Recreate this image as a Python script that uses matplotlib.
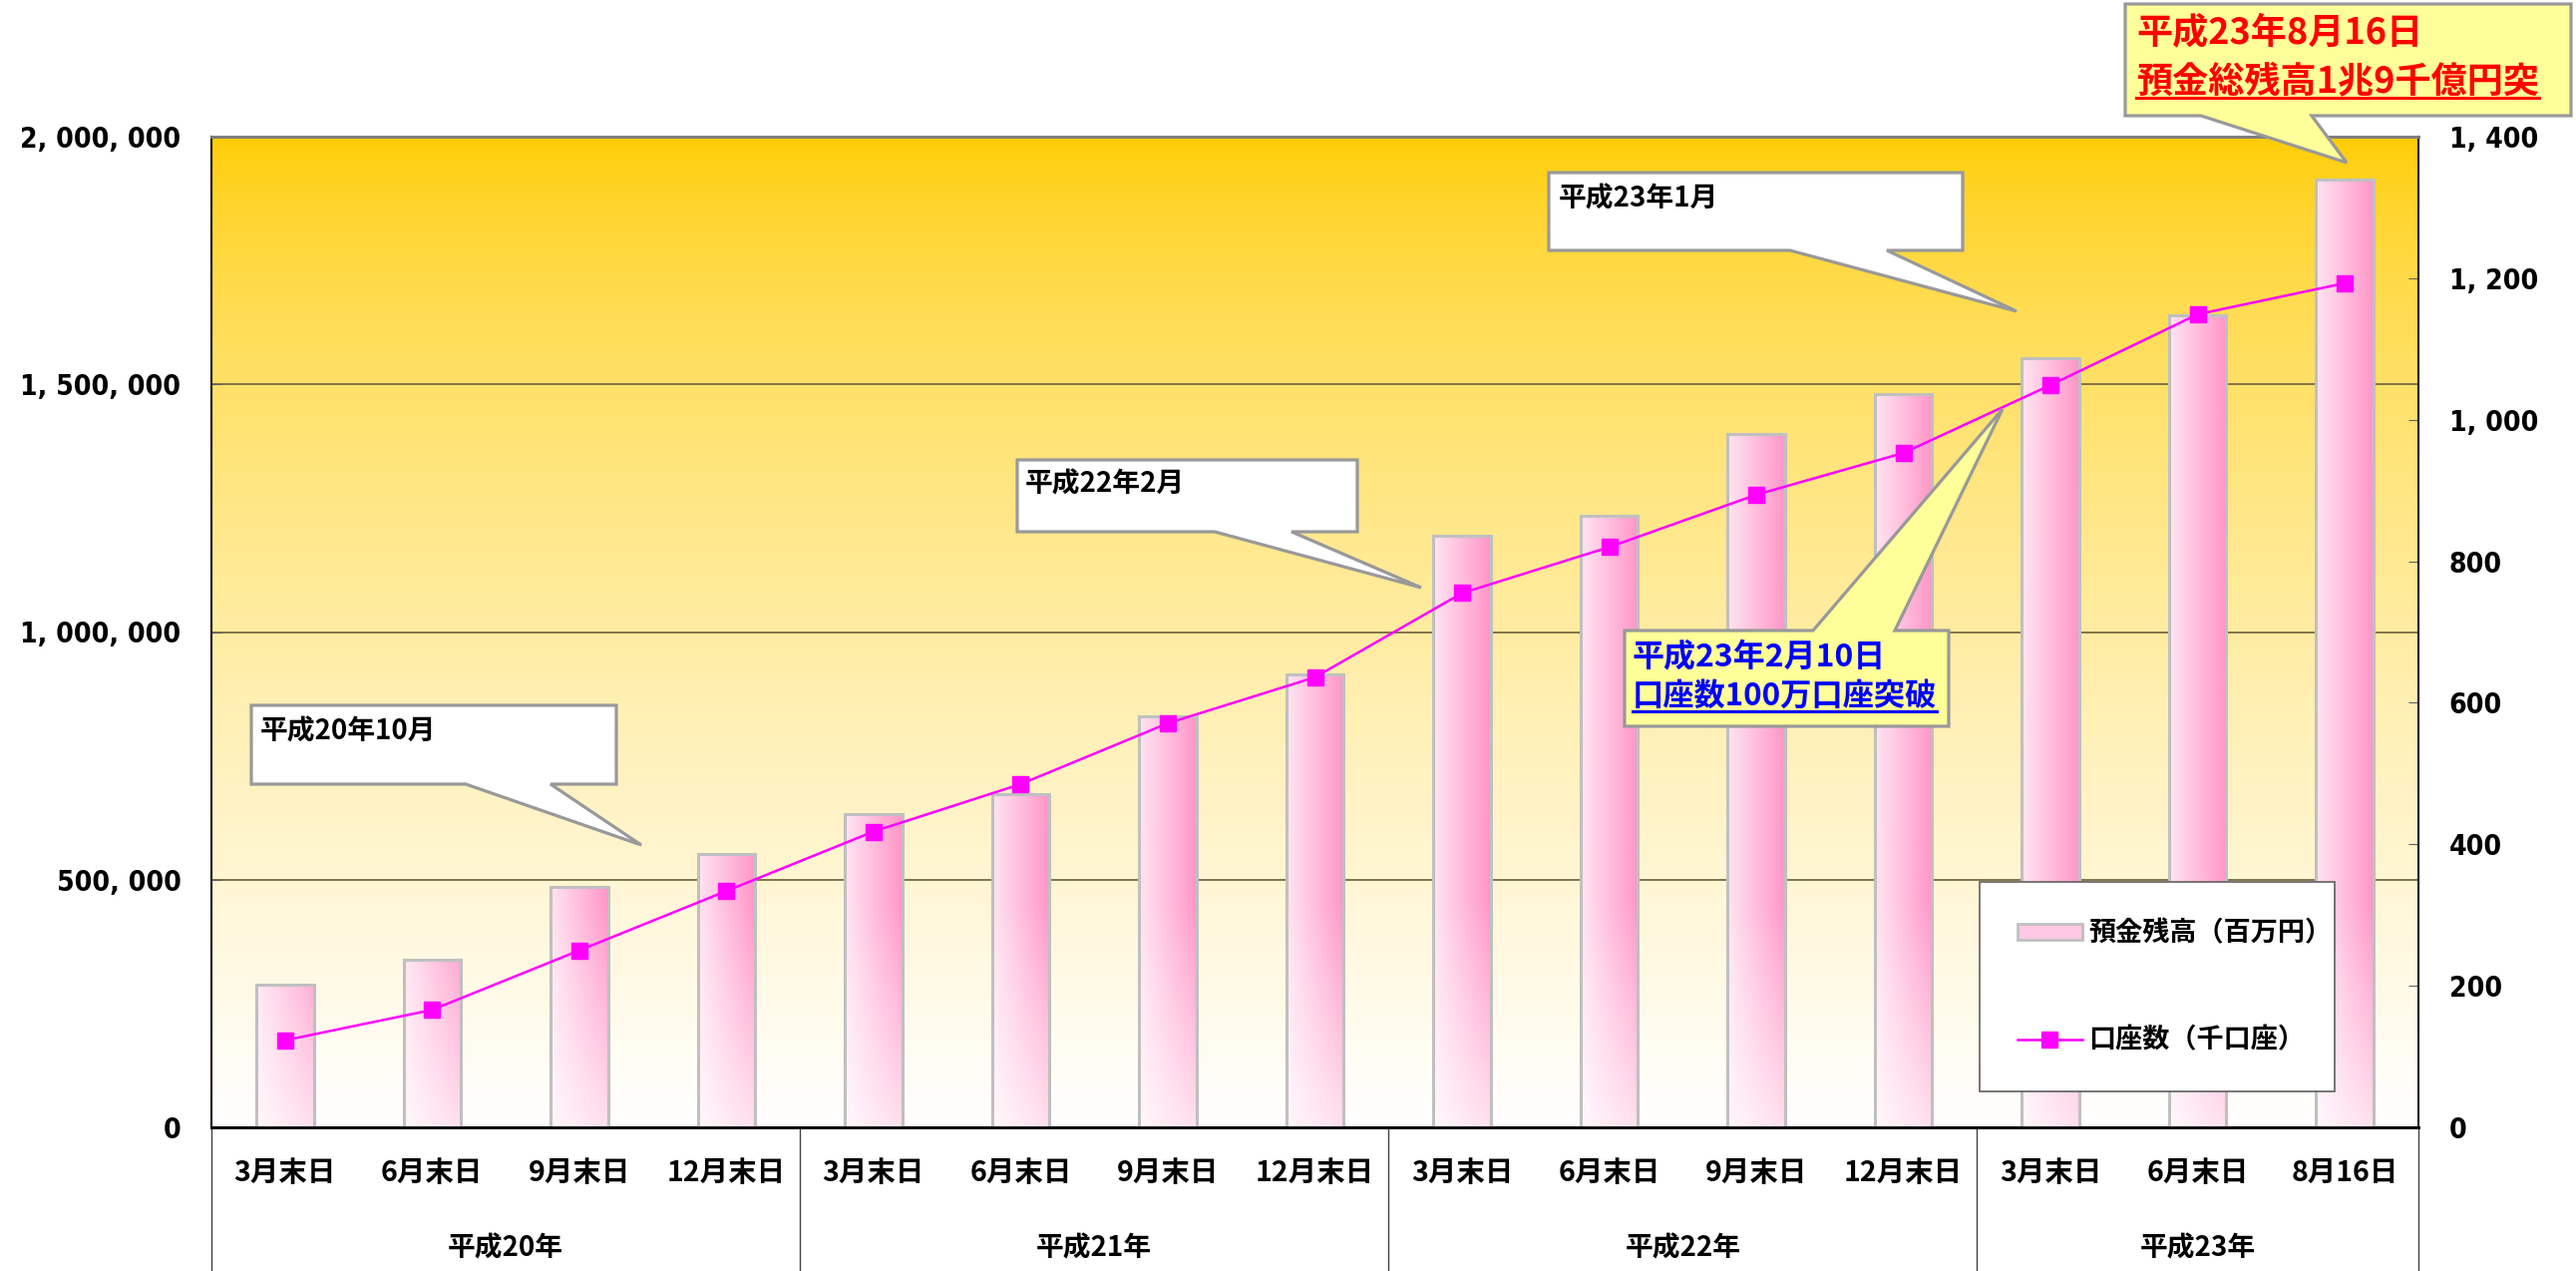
import numpy as np
import matplotlib
matplotlib.use("Agg")
import matplotlib.pyplot as plt
from matplotlib import font_manager
from matplotlib.patches import Polygon, Rectangle
from matplotlib.lines import Line2D

# data
years = ["平成20年", "平成21年", "平成22年", "平成23年"]
year_sizes = [4, 4, 4, 3]
months = ["3月末日", "6月末日", "9月末日", "12月末日",
          "3月末日", "6月末日", "9月末日", "12月末日",
          "3月末日", "6月末日", "9月末日", "12月末日",
          "3月末日", "6月末日", "8月16日"]
deposits = [288000, 338000, 485000, 551000, 633000, 673000, 829000, 915000,
            1194000, 1234000, 1400000, 1480000, 1552000, 1640000, 1913000]
accounts = [123, 166, 250, 334, 418, 485, 571, 636,
            755, 820, 894, 953, 1049, 1149, 1193]
left_ticks = [0, 500000, 1000000, 1500000, 2000000]
right_ticks = [0, 200, 400, 600, 800, 1000, 1200, 1400]
bar_label = "預金残高（百万円）"
line_label = "口座数（千口座）"

W, H = 2583, 1274
CJK = "Noto Sans CJK JP"


def fmt(v):
    return f"{v:,.0f}".replace(",", ", ")


# narrow bold face for the axis numbers, if the system has one
narrow = None
for f in font_manager.fontManager.ttflist:
    fn = f.fname.lower()
    if ("narrow" in fn or "condensed" in fn) and "bold" in fn and "italic" not in fn \
            and "oblique" not in fn and "semi" not in fn and "extra" not in fn:
        narrow = f.fname
        break
if narrow:
    num_prop = font_manager.FontProperties(fname=narrow, size=28)
else:
    num_prop = font_manager.FontProperties(family="Liberation Sans", weight="bold", size=28)

plt.rcParams["font.family"] = [CJK, "DejaVu Sans"]

fig = plt.figure(figsize=(W / 100, H / 100), dpi=100)

# fit the number font so "2, 000, 000" is about 160 px wide, as in the chart
probe = fig.text(0, 0, fmt(2000000), fontproperties=num_prop)
fig.canvas.draw()
pw = probe.get_window_extent().width
probe.remove()
num_prop.set_size(min(28, 28 * 160 / pw))

ax = fig.add_axes([212 / W, 1 - 1130 / H, (2425 - 212) / W, (1130 - 137) / H])
ax2 = ax.twinx()

x = np.arange(len(months))

# background gradient
t = np.linspace(0, 1, 256)[:, None, None]
s = t ** 0.65
gold = np.array([255, 204, 0]) / 255.0
bg = gold * (1 - s) + s
ax.imshow(bg, extent=[-0.5, 14.5, 0, 2000000], aspect="auto", zorder=0,
          interpolation="bicubic", origin="upper")

# bars with gradient fill
bars = ax.bar(x, deposits, width=0.39, facecolor="none", edgecolor="#C0C0C0",
              linewidth=2.2, zorder=3)
pink = np.array([255, 150, 200]) / 255.0
for b in bars:
    x0, w, h = b.get_x(), b.get_width(), b.get_height()
    xf = np.linspace(0, 1, 60)[None, :]
    yv = np.linspace(0, h, 200)[:, None]
    k = (0.25 + 0.75 * xf) * (0.3 + 0.7 * np.clip(yv / 450000, 0, 1))
    img = (1 - k[..., None]) + k[..., None] * pink
    im = ax.imshow(img, extent=[x0, x0 + w, 0, h], aspect="auto", origin="lower",
                   zorder=2, interpolation="bilinear")
    im.set_clip_path(b)

ax.set_xlim(-0.5, 14.5)
ax.set_ylim(0, 2000000)
ax.set_axisbelow(True)
ax.set_yticks(left_ticks, [fmt(v) for v in left_ticks], fontproperties=num_prop)
ax.yaxis.grid(True, color="#7a6a40", linewidth=1.3)
ax.tick_params(axis="y", direction="in", length=7, color="#606060", pad=22)

ax.set_xticks(x, months, fontsize=20.5, fontweight="bold", va="center")
ax.tick_params(axis="x", length=0, pad=33)

# line on right axis
ax2.plot(x, accounts, color="#FF00FF", linewidth=1.8, marker="s", markersize=12,
         markeredgecolor="#FF00FF", zorder=5)
ax2.set_ylim(0, 1400)
ax2.set_yticks(right_ticks, [fmt(v) for v in right_ticks], fontproperties=num_prop)
ax2.tick_params(axis="y", direction="in", length=7, color="#606060", pad=22)

for a in (ax, ax2):
    a.spines["top"].set_color("#808080")
    a.spines["top"].set_linewidth(2)
    a.spines["left"].set_color("#202020")
    a.spines["left"].set_linewidth(1.5)
    a.spines["right"].set_color("#202020")
    a.spines["right"].set_linewidth(1.5)
    a.spines["bottom"].set_color("#000000")
    a.spines["bottom"].set_linewidth(2)

# year groups below the axis
bounds = np.concatenate([[0], np.cumsum(year_sizes)]) - 0.5
trans = ax.get_xaxis_transform()
for xb in bounds:
    ax.plot([xb, xb], [0, -0.16], transform=trans, color="#404040",
            linewidth=1, clip_on=False)
for i, yr in enumerate(years):
    ax.text((bounds[i] + bounds[i + 1]) / 2, -0.122, yr, transform=trans,
            ha="center", va="center", fontsize=20, fontweight="bold")

# legend
leg = ax2.legend(
    handles=[Rectangle((0, 0), 1, 1, facecolor="#FFC8E4", edgecolor="#C0C0C0", linewidth=2),
             Line2D([], [], color="#FF00FF", linewidth=1.8, marker="s", markersize=12)],
    labels=[bar_label, line_label],
    loc="lower left", bbox_to_anchor=(0.801, 0.036, 0.161, 0.218), mode="expand",
    prop=dict(family=CJK, weight="bold", size=19.5), frameon=True, fancybox=False,
    edgecolor="#606060", framealpha=1, borderpad=1.4, labelspacing=2.9,
    handlelength=2.4, handleheight=0.5, handletextpad=0.25, borderaxespad=0)
leg.get_frame().set_linewidth(1.2)


# callouts drawn in pixel positions of the figure
def fp(pts):
    return [(px / W, 1 - py / H) for px, py in pts]


def callout(pts, fc):
    fig.add_artist(Polygon(fp(pts), closed=True, transform=fig.transFigure,
                           facecolor=fc, edgecolor="#999999", linewidth=2.3,
                           joinstyle="miter", zorder=4))


def label(px, py, s, size, color="black"):
    return fig.text(px / W, 1 - py / H, s, ha="left", va="center", fontsize=size,
                    fontweight="bold", color=color, family=CJK, zorder=5)


callout([(252, 707), (618, 707), (618, 786), (552, 786), (643, 847),
         (467, 786), (252, 786)], "white")
label(261, 733, "平成20年10月", 20)
callout([(1020, 461), (1361, 461), (1361, 533), (1295, 533), (1425, 589),
         (1218, 533), (1020, 533)], "white")
label(1028, 485, "平成22年2月", 20)
callout([(1553, 173), (1968, 173), (1968, 251), (1892, 251), (2022, 312),
         (1795, 251), (1553, 251)], "white")
label(1563, 199, "平成23年1月", 20)

callout([(1629, 632), (1818, 632), (2008, 410), (1900, 632), (1954, 632),
         (1954, 728), (1629, 728)], "#FFFF99")
label(1637, 658, "平成23年2月10日", 23, "#0000FF")
blue2 = label(1637, 698, "口座数100万口座突破", 22.5, "#0000FF")

callout([(2131, 4), (2578, 4), (2578, 116), (2318, 116), (2353, 163),
         (2207, 116), (2131, 116)], "#FFFF99")
label(2142, 33, "平成23年8月16日", 26, "#FF0000")
red2 = label(2142, 82, "預金総残高1兆9千億円突", 26, "#FF0000")

# underlines
fig.canvas.draw()
for txt, uy, col in ((blue2, 713, "#0000FF"), (red2, 98, "#FF0000")):
    bb = txt.get_window_extent()
    fig.add_artist(Line2D([bb.x0 / W, bb.x1 / W], [1 - uy / H, 1 - uy / H],
                          transform=fig.transFigure, color=col, linewidth=2.2,
                          zorder=5))

fig.savefig("out.png", dpi=100)
